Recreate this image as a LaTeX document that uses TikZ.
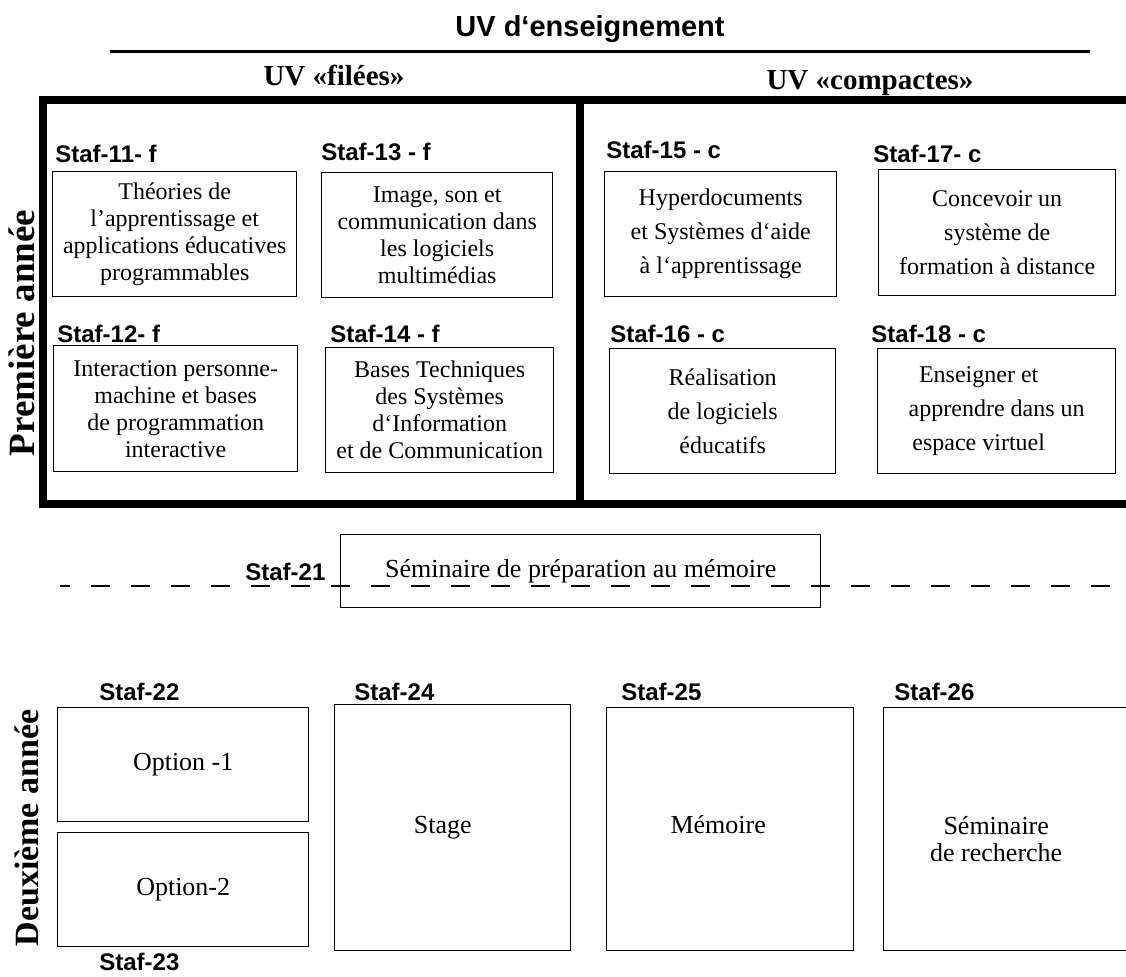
\documentclass[tikz,border=0pt]{standalone}
\usepackage{fontspec}
\setmainfont{Liberation Serif}
\setsansfont{Liberation Sans}
\usetikzlibrary{positioning}

\begin{document}
\begin{tikzpicture}[x=0.5pt, y=-0.5pt]
    % Styles
    \tikzstyle{uvbox} = [draw=black, line width=0.7pt, anchor=north west, inner sep=2pt, align=center, font=\fontsize{12pt}{13.5pt}\selectfont]
    \tikzstyle{compactbox} = [uvbox, font=\fontsize{12pt}{17pt}\selectfont]
    \tikzstyle{grandbox} = [uvbox, font=\fontsize{13pt}{13.5pt}\selectfont]
    \tikzstyle{staflabel} = [anchor=base west, inner sep=0pt, font=\sffamily\bfseries\fontsize{12pt}{14pt}\selectfont]
    \tikzstyle{entete} = [anchor=base, inner sep=0pt, font=\bfseries\fontsize{14.5pt}{17pt}\selectfont]
    \tikzstyle{annee} = [rotate=90, inner sep=0pt, font=\bfseries\fontsize{17pt}{20pt}\selectfont]
    \tikzstyle{cadre} = [draw=black, line width=4pt]
    \tikzstyle{pointille} = [draw=black, line width=0.7pt, dash pattern=on 9.5pt off 10.5pt, dash phase=4.5pt]

    \path[use as bounding box] (0,0) rectangle (1126,976);
    \clip (0,0) rectangle (1126,976);

    % En-tetes
    \node (titre) [entete, font=\sffamily\bfseries\fontsize{14.5pt}{17pt}\selectfont] at (590,36) {UV d‘enseignement};
    \coordinate (ligneG) at (110,51);
    \coordinate (ligneD) at (1090,51);
    \draw [line width=1.5pt] (ligneG) -- (ligneD);
    \node (filees) [entete] at (334,85) {UV «filées»};
    \node (compactes) [entete] at (870,89) {UV «compactes»};

    % Premiere annee
    \draw [cadre] (43,100) rectangle (580,504);
    \draw [cadre] (580,100) rectangle (1150,504);
    \node (annee1) [annee, font=\bfseries\fontsize{18.5pt}{20pt}\selectfont] at (22,333) {Première année};

    \node (s11) [uvbox, minimum width=122pt, minimum height=62.5pt] at (52,171) {Théories de\\l’apprentissage et\\applications éducatives\\programmables};
    \node (s13) [uvbox, minimum width=115.5pt, minimum height=62.5pt] at (321,172) {Image, son et\\communication dans\\les logiciels\\multimédias};
    \node (s12) [uvbox, minimum width=122pt, minimum height=63pt] at (53,345) {Interaction personne-\\machine et bases\\de programmation\\interactive};
    \node (s14) [uvbox, minimum width=114pt, minimum height=62.5pt] at (325,347) {Bases Techniques\\des Systèmes\\d‘Information\\et de Communication};
    \node (s15) [compactbox, minimum width=116pt, minimum height=62.5pt] at (604,171) {Hyperdocuments\\et Systèmes d‘aide\\à l‘apprentissage};
    \node (s17) [compactbox, minimum width=118.5pt, minimum height=63pt] at (878,169) {Concevoir un\\système de\\formation à distance};
    \node (s16) [compactbox, minimum width=113pt, minimum height=62.5pt] at (609,348) {Réalisation\\de logiciels\\éducatifs};
    \node (s18) [compactbox, minimum width=119pt, minimum height=62.5pt] at (877,348) {Enseigner et\hspace*{18pt}\\apprendre dans un\hspace*{18pt}\\espace virtuel\hspace*{18pt}};

    \node (l11) [staflabel] at (55,162) {Staf-11- f};
    \node (l13) [staflabel] at (321,160) {Staf-13 - f};
    \node (l15) [staflabel] at (606,158) {Staf-15 - c};
    \node (l17) [staflabel] at (873,162) {Staf-17- c};
    \node (l12) [staflabel] at (57,342) {Staf-12- f};
    \node (l14) [staflabel] at (330,342) {Staf-14 - f};
    \node (l16) [staflabel] at (610,342) {Staf-16 - c};
    \node (l18) [staflabel] at (871,342) {Staf-18 - c};

    % Seminaire de preparation
    \node (s21) [grandbox, minimum width=240pt, minimum height=36.5pt] at (340,534) {Séminaire de préparation au mémoire};
    \node (l21) [staflabel] at (245,580) {Staf-21};
    \coordinate (tiretG) at (60,586);
    \coordinate (tiretD) at (1126,586);
    \draw [pointille] (tiretG) -- (tiretD);

    % Deuxieme annee
    \node (annee2) [annee] at (27,828) {Deuxième année};
    \node (s22) [grandbox, minimum width=125.5pt, minimum height=57pt] at (57,707) {Option -1};
    \node (s23) [grandbox, minimum width=125.5pt, minimum height=57pt] at (57,832) {Option-2};
    \node (s24) [grandbox, minimum width=118pt, minimum height=123pt] at (334,704) {Stage\hspace*{10pt}};
    \node (s25) [grandbox, minimum width=123.5pt, minimum height=121.5pt] at (606,707) {Mémoire\hspace*{12pt}\rule[-5pt]{0pt}{5pt}};
    \node (s26) [grandbox, minimum width=128.5pt, minimum height=121.5pt] at (883,707) {\rule{0pt}{18.5pt}Séminaire\hspace*{16pt}\\de recherche\hspace*{16pt}};

    \node (l22) [staflabel] at (99,700) {Staf-22};
    \node (l23) [staflabel] at (99,970) {Staf-23};
    \node (l24) [staflabel] at (354,700) {Staf-24};
    \node (l25) [staflabel] at (621,700) {Staf-25};
    \node (l26) [staflabel] at (894,700) {Staf-26};
\end{tikzpicture}
\end{document}
